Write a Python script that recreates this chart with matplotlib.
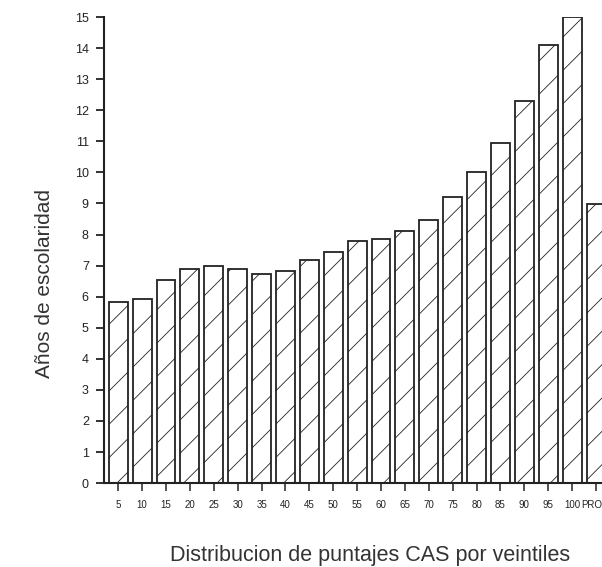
"""
Anos de escolaridad por veintiles de puntaje CAS (bar chart with hatch)
"""

import numpy as np
import matplotlib
matplotlib.use('Agg')
import matplotlib.pyplot as plt

#***************** Data ***************#
categories = ['5', '10', '15', '20', '25', '30', '35', '40', '45', '50',
              '55', '60', '65', '70', '75', '80', '85', '90', '95', '100', 'PROM']
years = [5.82, 5.92, 6.53, 6.88, 7.0, 6.88, 6.72, 6.83, 7.17, 7.45,
         7.8, 7.85, 8.1, 8.48, 9.2, 10.02, 10.93, 12.3, 14.1, 15.0, 8.97]
y_ticks = list(range(0, 16))
#**************************************#

plt.rcParams['font.family'] = ['Liberation Sans', 'DejaVu Sans']
plt.rcParams['hatch.linewidth'] = 0.6
plt.rcParams['hatch.color'] = '#9a9a9a'

fig = plt.figure(figsize=(6.02, 5.67), dpi=100)
ax = fig.add_axes([0.173, 0.148, 0.827, 0.822])

x = np.arange(len(categories))
ax.bar(x, years, width=0.79, color='white', edgecolor='#222222',
       linewidth=1.3, hatch='/')

ax.set_xlim(-0.59, 20.25)
ax.set_ylim(0, 15)
ax.set_yticks(y_ticks)
ax.set_yticklabels([str(v) for v in y_ticks], fontsize=9, color='#222222')
ax.set_xticks(x)
ax.set_xticklabels(categories, fontsize=7, color='#222222')

# spines & ticks
ax.spines['top'].set_visible(False)
ax.spines['right'].set_visible(False)
ax.spines['left'].set_linewidth(1.5)
ax.spines['bottom'].set_linewidth(1.5)
ax.spines['left'].set_color('#222222')
ax.spines['bottom'].set_color('#222222')
ax.tick_params(axis='y', direction='out', length=6, width=1.3, pad=5, colors='#222222')
ax.tick_params(axis='x', direction='out', length=6, width=1.1, pad=6, colors='#222222')

fig.text(44/602, 1-283/567, 'Años de escolaridad', rotation=90,
         ha='center', va='center', fontsize=15, color='#333333')
fig.text(370/602, 1-555/567, 'Distribucion de puntajes CAS por veintiles',
         ha='center', va='center', fontsize=15.5, color='#333333')

fig.savefig('out.png', dpi=100)
